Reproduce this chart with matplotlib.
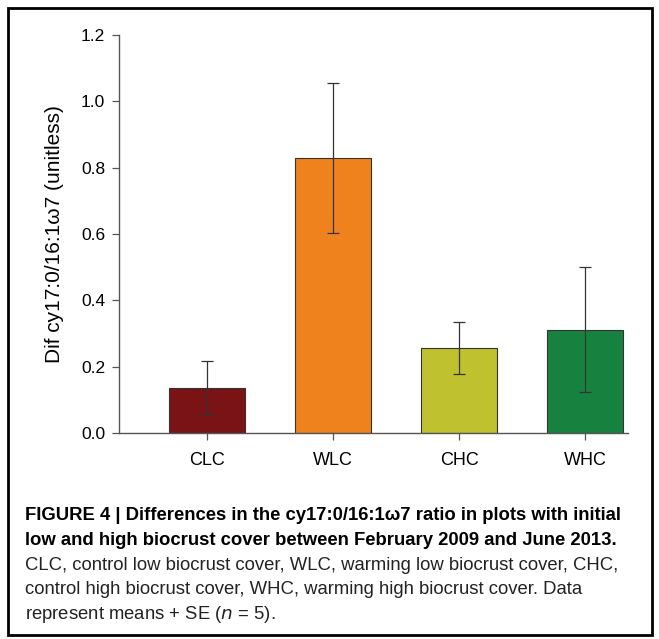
import matplotlib.pyplot as plt
from matplotlib.patches import Rectangle

# values
groups = ['CLC', 'WLC', 'CHC', 'WHC']
means = [0.135, 0.829, 0.257, 0.311]
se = [0.081, 0.226, 0.078, 0.188]
colors = ['#7a1316', '#f0821e', '#bfc12f', '#17813f']

plt.rcParams['font.family'] = ['Liberation Sans', 'DejaVu Sans']

fig = plt.figure(figsize=(6.59, 6.39), dpi=100)
ax = fig.add_axes([0.1806, 0.3224, 0.7724, 0.6228])

x = range(len(groups))
ax.bar(x, means, width=0.6, color=colors, edgecolor='#333333', linewidth=0.8, zorder=2)
ax.errorbar(x, means, yerr=se, fmt='none', ecolor='#333333', elinewidth=0.9,
            capsize=4, capthick=0.9, zorder=3)

ax.set_xlim(-0.70, 3.34)
ax.set_ylim(0, 1.2)
ax.set_yticks([0.0, 0.2, 0.4, 0.6, 0.8, 1.0, 1.2])
ax.set_yticklabels(['0.0', '0.2', '0.4', '0.6', '0.8', '1.0', '1.2'])
ax.set_xticks(list(x))
ax.set_xticklabels(groups)
ax.tick_params(axis='y', labelsize=12.5, color='#555555', length=5, width=0.9, pad=5)
ax.tick_params(axis='x', labelsize=13, color='#555555', length=5, width=0.9, pad=9)
ax.set_ylabel('Dif cy17:0/16:1\u03c97 (unitless)', fontsize=15, labelpad=12)
for side in ['top', 'right']:
    ax.spines[side].set_visible(False)
for side in ['left', 'bottom']:
    ax.spines[side].set_color('#555555')
    ax.spines[side].set_linewidth(1.0)

# outer frame
fig.patches.append(Rectangle((0.012, 0.006), 0.978, 0.982, transform=fig.transFigure,
                             fill=False, edgecolor='black', linewidth=2))

# caption
cap_size = 13.3
cap_x = 0.038
fig.text(cap_x, 0.186, 'FIGURE 4 | Differences in the cy17:0/16:1\u03c97 ratio in plots with initial',
         fontsize=cap_size, fontweight='bold')
fig.text(cap_x, 0.147, 'low and high biocrust cover between February 2009 and June 2013.',
         fontsize=cap_size, fontweight='bold')
fig.text(cap_x, 0.108, 'CLC, control low biocrust cover, WLC, warming low biocrust cover, CHC,',
         fontsize=cap_size, color='#222222')
fig.text(cap_x, 0.070, 'control high biocrust cover, WHC, warming high biocrust cover. Data',
         fontsize=cap_size, color='#222222')
fig.text(cap_x, 0.032, 'represent means + SE ($\\it{n}$ = 5).', fontsize=cap_size, color='#222222')

fig.savefig('out.png', dpi=100)
